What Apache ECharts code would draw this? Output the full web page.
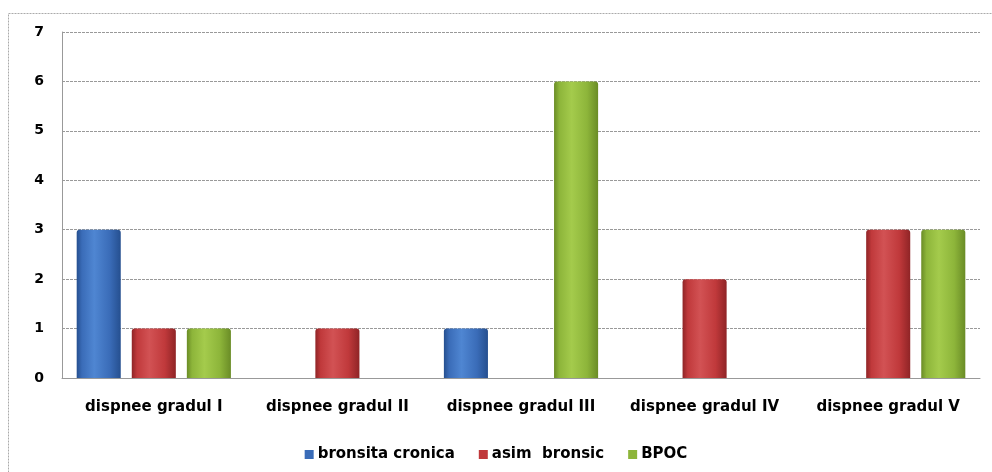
<!DOCTYPE html>
<html><head><meta charset="utf-8">
<script src="https://cdn.jsdelivr.net/npm/echarts@6/dist/echarts.min.js"></script>
<style>html,body{margin:0;padding:0;background:#fff}#c{width:992px;height:472px}</style>
</head><body><div id="c"></div>
<script>
const categories = ['dispnee gradul I','dispnee gradul II','dispnee gradul III','dispnee gradul IV','dispnee gradul V'];
const seriesNames = ['bronsita cronica','asim  bronsic','BPOC'];
const bronsitaCronica = [3, 0, 1, 0, 0];
const astmBronsic = [1, 1, 0, 2, 3];
const bpoc = [1, 0, 6, 0, 3];
const yTicks = [0,1,2,3,4,5,6,7];

function grad(dark, mid, light){
  return new echarts.graphic.LinearGradient(0,0,1,0,[
    {offset:0,color:dark},{offset:0.12,color:mid},{offset:0.4,color:light},
    {offset:0.75,color:mid},{offset:1,color:dark}]);
}
const colors = [
  grad('#254f8f','#3a6cb8','#4f86d2'),
  grad('#8f2426','#c0393b','#d25254'),
  grad('#6a8c26','#8db53a','#a4cb4c')
];
const legendColors = ['#3a6cb8','#c0393b','#8db53a'];
const datasets = [bronsitaCronica, astmBronsic, bpoc];
const font = {fontFamily:'DejaVu Sans',fontWeight:'bold',fontSize:15,color:'#000'};

const chart = echarts.init(document.getElementById('c'));
chart.setOption({
  animation:false,
  graphic:[{type:'rect',shape:{x:8.5,y:13.5,width:1000,height:470},style:{fill:'none',stroke:'#aaa',lineWidth:1,lineDash:[2,1]},silent:true}],
  grid:{left:62,right:12,top:32,bottom:94,containLabel:false},
  legend:{top:442,left:'center',itemWidth:9,itemHeight:9,itemGap:24,icon:'rect',
    textStyle:Object.assign({},font,{padding:[0,0,0,-1]}),
    data:seriesNames.map((n,i)=>({name:n,itemStyle:{color:legendColors[i]}}))},
  xAxis:{type:'category',data:categories,
    axisLine:{lineStyle:{color:'#999'}},axisTick:{show:false},
    axisLabel:Object.assign({margin:22,interval:0},font)},
  yAxis:{type:'value',min:0,max:7,interval:1,
    axisLine:{show:true,lineStyle:{color:'#999'}},axisTick:{show:false},
    splitLine:{lineStyle:{color:'#999',type:[3,1]}},
    axisLabel:Object.assign({margin:18,formatter:v=>yTicks.includes(v)?String(v):''},font,{fontSize:14})},
  series:datasets.map((d,i)=>({
    name:seriesNames[i],type:'bar',data:d,barGap:'25%',barCategoryGap:'16%',
    itemStyle:{color:colors[i],borderWidth:0,borderRadius:[3,3,0,0]}
  }))
});
</script></body></html>
